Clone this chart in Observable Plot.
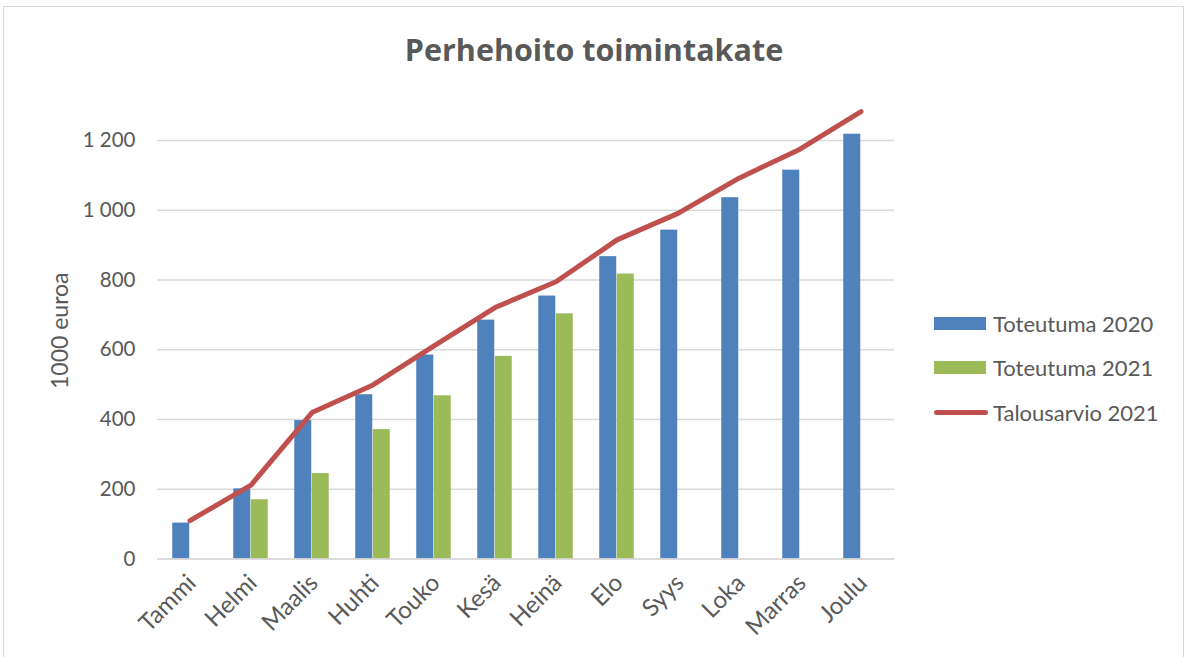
<!DOCTYPE html>
<html>
<head>
<meta charset="utf-8">
<script src="https://cdn.jsdelivr.net/npm/d3@7"></script>
<script src="https://cdn.jsdelivr.net/npm/@observablehq/plot@0.6"></script>
<style>
  html, body { margin: 0; padding: 0; background: #fff; }
  #wrap { position: relative; width: 1188px; height: 657px; overflow: hidden; font-family: Lato, "Open Sans", sans-serif; color: #595959; }
  #frame { position: absolute; left: 3px; top: 6px; width: 1181px; height: 660px; border: 1px solid #d9d9d9; box-sizing: border-box; }
  #title { position: absolute; left: 0; top: 34px; width: 1188px; text-align: center; font-family: "Open Sans", sans-serif; font-size: 30.5px; line-height: 30px; font-weight: 700; }
  #plot { position: absolute; left: 0; top: 100px; }
  #legend { position: absolute; left: 934px; top: 301px; }
  .item { display: flex; align-items: center; height: 44.5px; font-size: 22px; }
  .sw { width: 52px; height: 13px; margin-right: 7px; }
  .ln { width: 54px; height: 5px; border-radius: 3px; margin-right: 5px; }
</style>
</head>
<body>
<div id="wrap">
  <div id="frame"></div>
  <div id="title">Perhehoito toimintakate</div>
  <div id="plot"></div>
  <div id="legend"></div>
</div>
<script>
const months = ["Tammi", "Helmi", "Maalis", "Huhti", "Touko", "Kesä", "Heinä", "Elo", "Syys", "Loka", "Marras", "Joulu"];
const toteutuma2020 = [103, 201, 397, 471, 585, 685, 754, 867, 943, 1036, 1115, 1218];
const toteutuma2021 = [null, 170, 245, 371, 468, 581, 703, 817, null, null, null, null];
const talousarvio2021 = [110, 212, 420, 499, 611, 721, 795, 915, 991, 1092, 1175, 1283];
const yTicks = [0, 200, 400, 600, 800, 1000, 1200];
const seriesNames = ["Toteutuma 2020", "Toteutuma 2021", "Talousarvio 2021"];
const seriesColors = ["#4F81BD", "#9BBB59", "#C0504D"];
const yLabel = "1000 euroa";

const d2020 = months.map((m, i) => ({month: m, value: toteutuma2020[i]}));
const d2021 = months.map((m, i) => ({month: m, value: toteutuma2021[i]})).filter(d => d.value != null);
const dBudget = months.map((m, i) => ({month: m, value: talousarvio2021[i]}));

const fmt = d3.formatLocale({decimal: ",", thousands: " ", grouping: [3], currency: ["", " €"]}).format(",");

const barW = 17.5;
const pIn = 1 - barW / (737 / 12);

const chart = Plot.plot({
  width: 920,
  height: 557,
  marginLeft: 157,
  marginRight: 26,
  marginTop: 40,
  marginBottom: 98.5,
  style: {fontFamily: "Lato, 'Open Sans', sans-serif", fontSize: "20px", color: "#595959", background: "transparent", overflow: "visible"},
  x: {domain: months, paddingInner: pIn, paddingOuter: pIn / 2, label: null},
  y: {domain: [0, 1200], label: null},
  marks: [
    Plot.gridY(yTicks, {stroke: "#d9d9d9", strokeOpacity: 1, strokeWidth: 1.5}),
    Plot.barY(d2020, {x: "month", y: "value", fill: seriesColors[0], dx: -barW / 2}),
    Plot.barY(d2021, {x: "month", y: "value", fill: seriesColors[1], dx: barW / 2}),
    Plot.ruleY([0], {stroke: "#d9d9d9", strokeWidth: 1.5}),
    Plot.lineY(dBudget, {x: "month", y: "value", stroke: seriesColors[2], strokeWidth: 5, strokeLinecap: "round", strokeLinejoin: "round"}),
    Plot.axisY({ticks: yTicks, tickSize: 0, tickPadding: 22, tickFormat: fmt, fontSize: 20.5, label: null}),
    Plot.axisX({tickSize: 0, tickRotate: -45, tickPadding: 20, fontSize: 24, dx: 2, label: null}),
    Plot.text([yLabel], {frameAnchor: "left", text: d => d, rotate: -90, textAnchor: "middle", dx: -97, dy: -19, fontSize: 23, fill: "#595959"})
  ]
});
document.getElementById("plot").appendChild(chart);

const legend = document.getElementById("legend");
seriesNames.forEach((name, i) => {
  const item = document.createElement("div");
  item.className = "item";
  const sw = document.createElement("div");
  sw.className = i === 2 ? "ln" : "sw";
  sw.style.background = seriesColors[i];
  const t = document.createElement("span");
  t.textContent = name;
  item.appendChild(sw);
  item.appendChild(t);
  legend.appendChild(item);
});
</script>
</body>
</html>
